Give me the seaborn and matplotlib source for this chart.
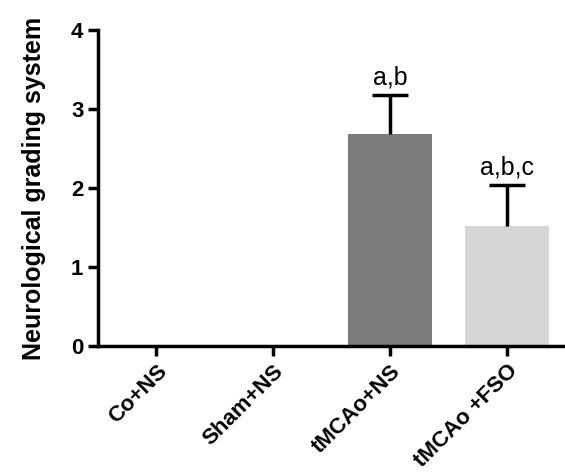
import matplotlib
matplotlib.use("Agg")
import matplotlib.pyplot as plt
import numpy as np
import pandas as pd
import seaborn as sns

groups = ["Co+NS", "Sham+NS", "tMCAo+NS", "tMCAo +FSO"]
means = [0.0, 0.0, 2.68, 1.52]
errs = [0.0, 0.0, 0.50, 0.52]
letters = ["", "", "a,b", "a,b,c"]
colors = ["#ffffff", "#ffffff", "#7b7b7b", "#d6d6d6"]

sns.set_style("ticks", {"axes.edgecolor": "black", "text.color": "black",
                        "xtick.color": "black", "ytick.color": "black",
                        "axes.labelcolor": "black"})
plt.rcParams["font.family"] = ["Liberation Sans", "DejaVu Sans"]

df = pd.DataFrame({"group": groups, "score": means})

fig = plt.figure(figsize=(5.65, 4.74), dpi=100)
ax = fig.add_axes([0.1735, 0.27, 0.8265, 0.6667])

sns.barplot(data=df, x="group", y="score", hue="group", palette=colors,
            width=0.72, legend=False, errorbar=None, ax=ax, linewidth=0)

# upward-only error bars (hide the lower cap)
x = np.arange(len(groups))
mask = np.array(errs) > 0
_, caps, _ = ax.errorbar(x[mask], np.array(means)[mask],
                         yerr=[np.zeros(mask.sum()), np.array(errs)[mask]],
                         fmt="none", ecolor="black", elinewidth=2.5,
                         capsize=13, capthick=2.5)
caps[0].set_visible(False)

for i, (m, e, t) in enumerate(zip(means, errs, letters)):
    if t:
        ax.text(i, m + e + 0.07, t, ha="center", va="bottom", fontsize=18,
                color="black")

ax.set_ylim(0, 4)
ax.set_xlim(-0.5, 3.5)
ax.set_yticks([0, 1, 2, 3, 4])
ax.set_xlabel("")
ax.set_ylabel("Neurological grading system", fontsize=18, fontweight="bold",
              labelpad=18)
ax.tick_params(axis="both", width=2.5, length=7, labelsize=16, direction="out",
               colors="black")
for lab in ax.get_yticklabels():
    lab.set_fontweight("bold")
plt.setp(ax.get_xticklabels(), rotation=45, ha="right", rotation_mode="anchor",
         fontweight="bold", fontsize=16)
for s in ["left", "bottom"]:
    ax.spines[s].set_linewidth(2.5)
sns.despine(ax=ax)

fig.savefig("out.png", dpi=100)
